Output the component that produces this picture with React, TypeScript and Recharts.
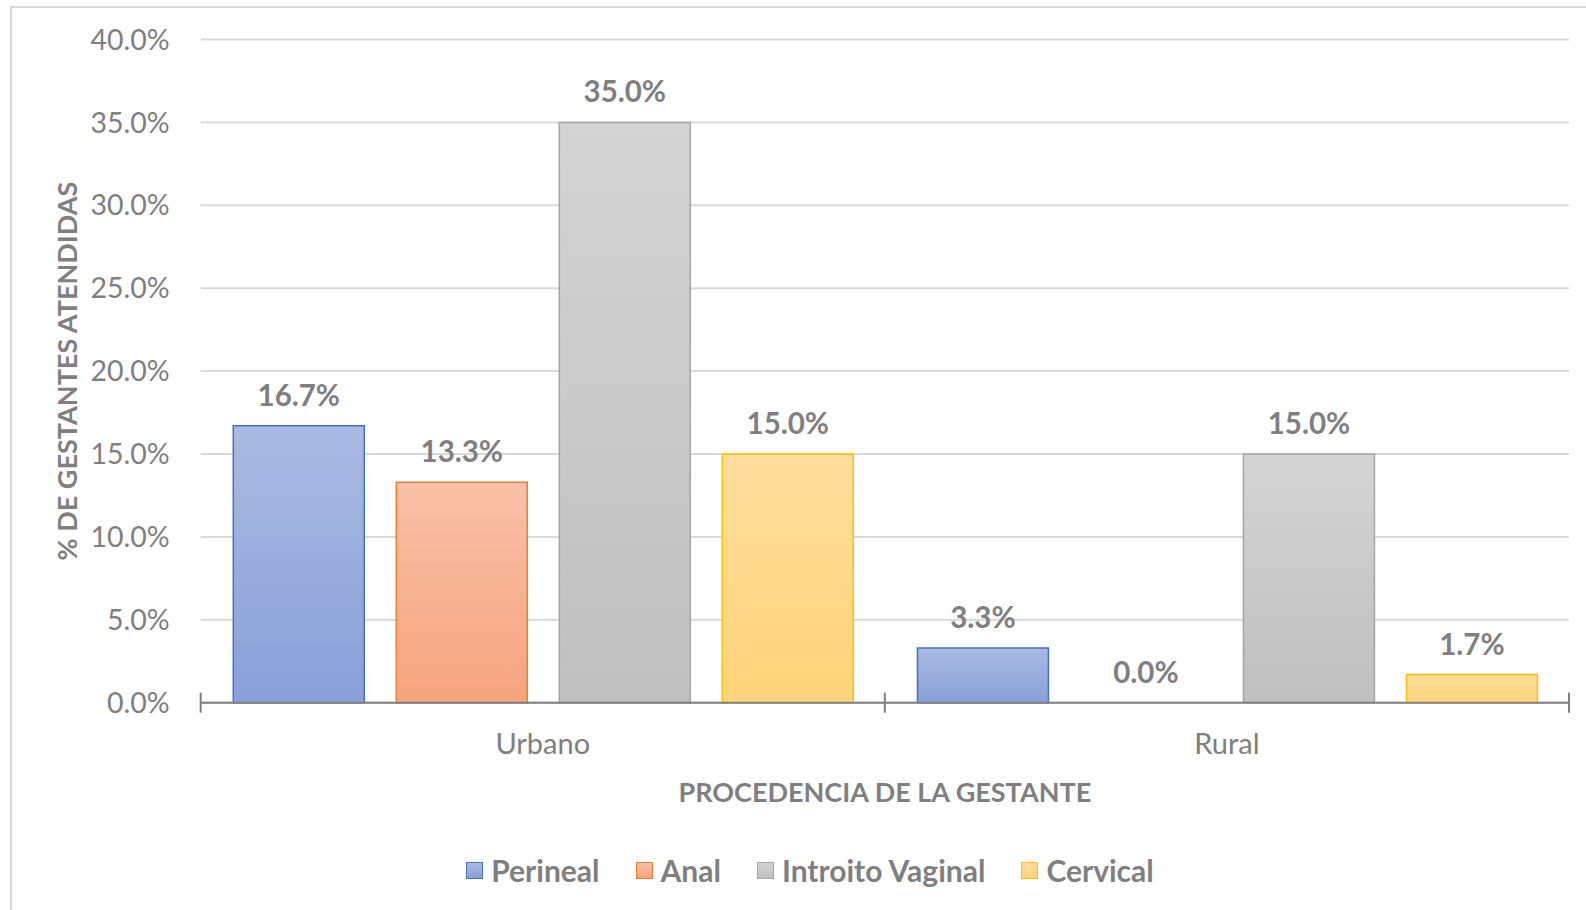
import React from 'react';
import { BarChart, Bar, XAxis, YAxis, CartesianGrid, Legend, LabelList, Cell } from 'recharts';

const categories = ['Urbano', 'Rural'];
const seriesNames = ['Perineal', 'Anal', 'Introito Vaginal', 'Cervical'];
const perineal = [16.7, 3.3];
const anal = [13.3, 0.0];
const introito = [35.0, 15.0];
const cervical = [15.0, 1.7];
const yTicks = [0, 5, 10, 15, 20, 25, 30, 35, 40];

const seriesValues = [perineal, anal, introito, cervical];
const keys = ['perineal', 'anal', 'introito', 'cervical'];
const styles = [
  { top: '#abbae2', bottom: '#889fd8', stroke: '#4472c4' },
  { top: '#f8c0a7', bottom: '#f5a47e', stroke: '#ed7d31' },
  { top: '#d4d4d4', bottom: '#bfbfbf', stroke: '#a5a5a5' },
  { top: '#ffdd9c', bottom: '#ffd47a', stroke: '#ffc000' },
];

const data = categories.map((c, i) => {
  const row: any = { name: c };
  keys.forEach((k, j) => (row[k] = seriesValues[j][i]));
  return row;
});

const FONT = 'Lato, "Noto Sans", sans-serif';
const GRAY = '#7f7f7f';

const XTick = (props: any) => {
  const { x, y, payload, index } = props;
  const half = payload && payload.offset ? payload.offset : 342;
  return (
    <g>
      <text x={x} y={y + 51} textAnchor="middle" fill={GRAY} fontSize={29} fontFamily={FONT}>
        {payload.value}
      </text>
      <line x1={x - half} x2={x - half} y1={y - 10} y2={y + 10} stroke="#808080" strokeWidth={2} />
      {index === categories.length - 1 && (
        <line x1={x + half} x2={x + half} y1={y - 10} y2={y + 10} stroke="#808080" strokeWidth={2} />
      )}
    </g>
  );
};

const renderLegend = () => (
  <div
    style={{
      display: 'flex',
      justifyContent: 'center',
      alignItems: 'center',
      fontFamily: FONT,
      fontWeight: 700,
      fontSize: 30,
      color: GRAY,
      lineHeight: '36px',
    }}
  >
    {seriesNames.map((n, i) => (
      <div key={n} style={{ display: 'flex', alignItems: 'center', marginLeft: i === 0 ? 0 : 36 }}>
        <span
          style={{
            display: 'inline-block',
            width: 17,
            height: 17,
            boxSizing: 'border-box',
            background: `linear-gradient(${styles[i].top}, ${styles[i].bottom})`,
            border: `1.5px solid ${styles[i].stroke}`,
            marginRight: 8,
          }}
        />
        <span>{n}</span>
      </div>
    ))}
  </div>
);

export default function App() {
  return (
    <div style={{ position: 'absolute', left: 0, top: 0, width: 1586, height: 910, background: '#fff', overflow: 'hidden' }}>
      <div
        style={{
          position: 'absolute',
          left: 10,
          top: 6,
          width: 1600,
          height: 920,
          borderLeft: '2px solid #d9d9d9',
          borderTop: '2px solid #d9d9d9',
        }}
      />
      <div style={{ position: 'absolute', left: 0, top: 0 }}>
        <BarChart
          width={1586}
          height={910}
          data={data}
          margin={{ top: 39.5, right: 17, left: 0, bottom: 107.3 }}
          barCategoryGap={32.6}
          barGap={32}
        >
          <defs>
            {styles.map((s, i) => (
              <linearGradient key={i} id={`grad${i}`} x1="0" y1="0" x2="0" y2="1">
                <stop offset="0%" stopColor={s.top} />
                <stop offset="100%" stopColor={s.bottom} />
              </linearGradient>
            ))}
          </defs>
          <CartesianGrid vertical={false} stroke="#d9d9d9" strokeWidth={2} />
          <XAxis
            dataKey="name"
            height={100}
            interval={0}
            tickSize={0}
            tickMargin={0}
            tickLine={false}
            axisLine={{ stroke: '#808080', strokeWidth: 2 }}
            tick={<XTick />}
            label={{
              content: (p: any) => {
                const vb = p.viewBox || { x: 200.7, y: 702.7, width: 1368, height: 100 };
                return (
                  <text
                    x={vb.x + vb.width / 2}
                    y={vb.y + 99}
                    textAnchor="middle"
                    fill={GRAY}
                    fontSize={27}
                    fontWeight={700}
                    fontFamily={FONT}
                  >
                    PROCEDENCIA DE LA GESTANTE
                  </text>
                );
              },
            }}
          />
          <YAxis
            width={200.7}
            domain={[0, 40]}
            ticks={yTicks}
            interval={0}
            tickSize={0}
            tickMargin={31}
            axisLine={false}
            tickLine={false}
            tickFormatter={(v: number) => `${v.toFixed(1)}%`}
            tick={{ fill: GRAY, fontSize: 28.5, fontFamily: FONT }}
            label={{
              content: (p: any) => {
                const vb = p.viewBox || { x: 0, y: 39.5, width: 200.7, height: 663 };
                const cy = vb.y + vb.height / 2;
                return (
                  <text
                    x={77}
                    y={cy}
                    transform={`rotate(-90, 77, ${cy})`}
                    textAnchor="middle"
                    fill={GRAY}
                    fontSize={27}
                    fontWeight={700}
                    fontFamily={FONT}
                  >
                    % DE GESTANTES ATENDIDAS
                  </text>
                );
              },
            }}
          />
          <Legend
            layout="horizontal"
            verticalAlign="middle"
            align="center"
            content={renderLegend}
            wrapperStyle={{ position: 'absolute', left: 100, top: 852, width: 1420, height: 36 }}
          />
          {keys.map((k, i) => (
            <Bar
              key={k}
              dataKey={k}
              name={seriesNames[i]}
              fill={`url(#grad${i})`}
              stroke={styles[i].stroke}
              strokeWidth={1.5}
              minPointSize={0.01}
              isAnimationActive={false}
            >
              {data.map((row, j) => (
                <Cell key={j} stroke={row[k] === 0 ? 'none' : styles[i].stroke} />
              ))}
              <LabelList
                dataKey={k}
                position="top"
                offset={20}
                formatter={(v: any) => `${Number(v).toFixed(1)}%`}
                fill={GRAY}
                fontSize={29.5}
                fontWeight={700}
                fontFamily={FONT}
              />
            </Bar>
          ))}
        </BarChart>
      </div>
    </div>
  );
}
